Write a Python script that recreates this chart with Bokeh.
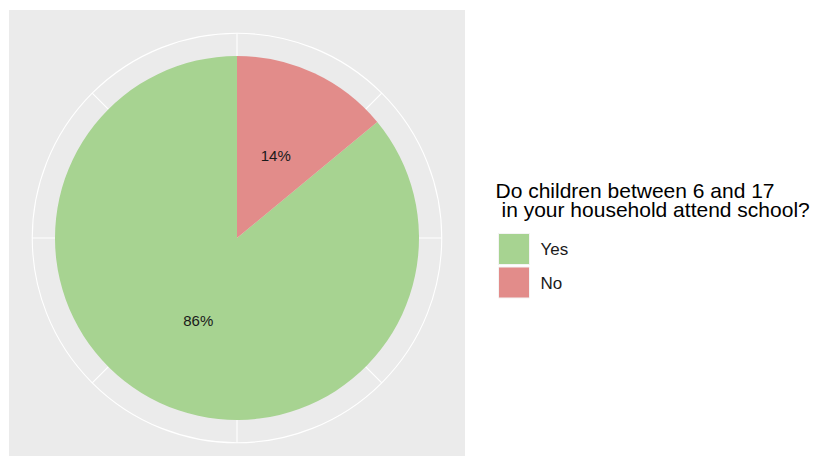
import math
from bokeh.plotting import figure
from bokeh.models import Range1d, ColumnDataSource
from bokeh.core.properties import value
from bokeh.embed import file_html
from bokeh.resources import INLINE

# ---- data ----
categories = ["Yes", "No"]
values = [86, 14]
fill_colors = ["#A7D391", "#E28C8A"]
legend_title = ["Do children between 6 and 17", " in your household attend school?"]
theta_breaks = [0, 0.125, 0.25, 0.375, 0.5, 0.625, 0.75, 0.875]

# ---- layout (page px -> data units, 1 unit = 1 px) ----
W, H = 816, 456
def X(px):
    return px
def Y(py):
    return H - py

FONT = "Liberation Sans"
cx, cy = X(236.5), Y(237.5)
panel = 455.0
r_pie = 0.4 * panel
r_outer = 0.45 * panel
r_label = 0.2 * panel

p = figure(width=W, height=H, x_range=Range1d(0, W), y_range=Range1d(0, H),
           x_axis_type=None, y_axis_type=None, toolbar_location=None,
           output_backend="svg", min_border=0)
p.outline_line_color = None
p.background_fill_color = "white"
p.border_fill_color = "white"

# grey panel
p.quad(left=X(8.5), right=X(464.5), top=Y(9.5), bottom=Y(465),
       fill_color="#EBEBEB", line_color=None)

# theta grid lines and outer circle
gx0, gy0, gx1, gy1 = [], [], [], []
for f in theta_breaks:
    a = math.pi / 2 - 2 * math.pi * f
    gx0.append(cx); gy0.append(cy)
    gx1.append(cx + r_outer * math.cos(a)); gy1.append(cy + r_outer * math.sin(a))
p.segment(x0=gx0, y0=gy0, x1=gx1, y1=gy1, line_color="white", line_width=1.1)
p.circle(x=[cx], y=[cy], radius=r_outer, fill_color=None, line_color="white",
         line_width=1.1)

# pie: stacking puts the first level last along theta
total = float(sum(values))
fracs = [v / total for v in values]
starts, ends, mids, labels = [], [], [], []
acc = 0.0
order = list(range(len(categories)))[::-1]
tmp = {}
for i in order:
    tmp[i] = (acc, acc + fracs[i])
    acc += fracs[i]
for i in range(len(categories)):
    s, e = tmp[i]
    starts.append(math.pi / 2 - 2 * math.pi * s)
    ends.append(math.pi / 2 - 2 * math.pi * e)
    mids.append((s + e) / 2)
    labels.append(f"{round(fracs[i] * 100)}%")

src = ColumnDataSource(dict(cat=categories, start=starts, end=ends,
                            color=fill_colors))
p.wedge(x=cx, y=cy, radius=r_pie, start_angle="start", end_angle="end",
        direction="clock", fill_color="color", line_color=None, source=src)

lx = [cx + r_label * math.cos(math.pi / 2 - 2 * math.pi * m) for m in mids]
ly = [cy + r_label * math.sin(math.pi / 2 - 2 * math.pi * m) for m in mids]
p.text(x=lx, y=ly, text=labels, text_font=value(FONT), text_font_size="15px",
       text_align="center", text_baseline="middle", text_color="#1a1a1a")

# legend (manual, ggplot style)
p.text(x=[X(495), X(501)], y=[Y(189.5), Y(209)], text=legend_title,
       text_font=value(FONT), text_font_size="21px", text_align="left",
       text_baseline="middle", text_color="black")
key_y = [Y(248.5 + 33.5 * i) for i in range(len(categories))]
p.rect(x=[X(513.5)] * len(categories), y=key_y, width=31, height=31,
       fill_color=fill_colors, line_color="#F4F4F4", line_width=1)
p.text(x=[X(540)] * len(categories), y=[Y(249 + 33.5 * i) for i in range(len(categories))],
       text=categories, text_font=value(FONT), text_font_size="17px",
       text_align="left", text_baseline="middle", text_color="#1a1a1a")

open("out.html", "w").write(file_html(p, INLINE))
